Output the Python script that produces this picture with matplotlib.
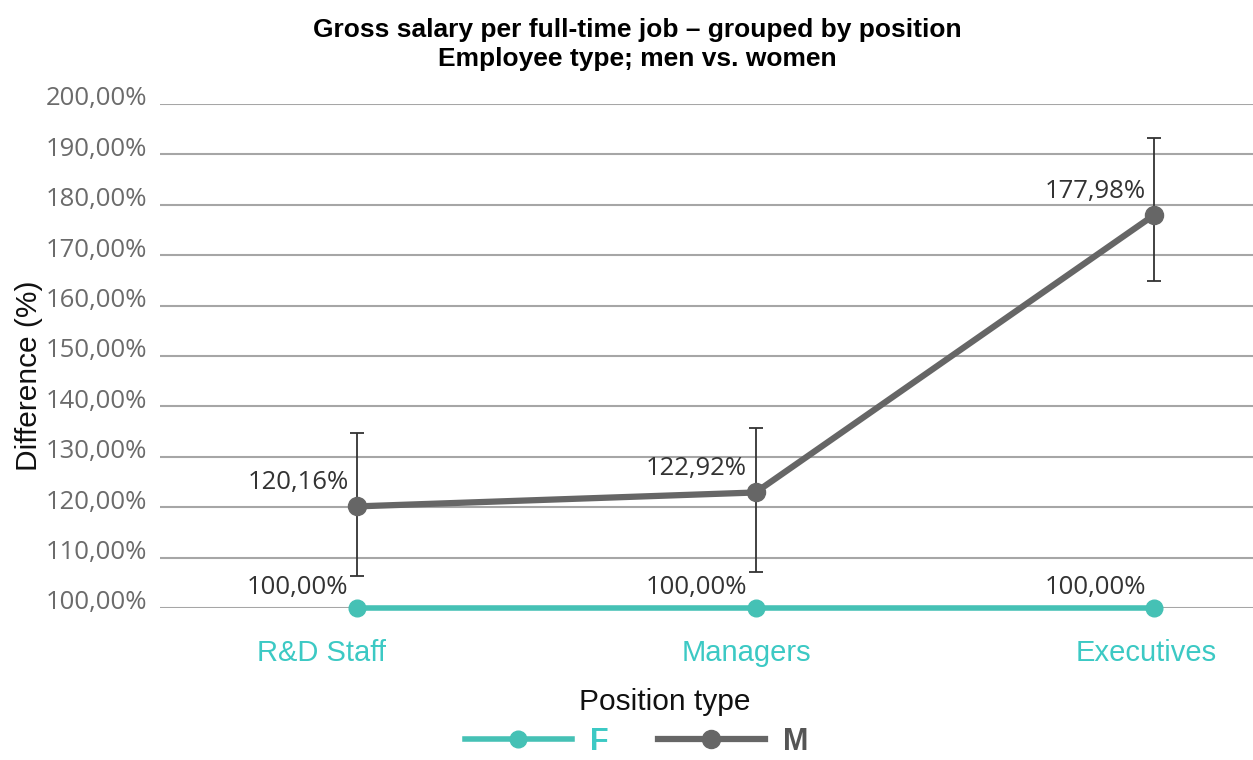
import matplotlib
matplotlib.use("Agg")
import matplotlib.pyplot as plt
from matplotlib.lines import Line2D
import matplotlib.transforms as mtransforms

categories = ["R&D Staff", "Managers", "Executives"]
f_values = [100.00, 100.00, 100.00]
m_values = [120.16, 122.92, 177.98]
m_err_low = [106.3, 107.2, 164.8]
m_err_high = [134.8, 135.7, 193.2]
yticks = [100, 110, 120, 130, 140, 150, 160, 170, 180, 190, 200]

TEAL = "#45C1B5"
TEAL_TXT = "#3CC9C4"
GRAY = "#666666"

W, H = 1253, 760
fig = plt.figure(figsize=(W / 100, H / 100), dpi=100)
ax = fig.add_axes([160 / W, (H - 608) / H, (1253 - 160) / W, (608 - 104) / H])
x = list(range(len(categories)))
ax.set_xlim(-0.494, 2.248)
ax.set_ylim(100, 200)

for s in ax.spines.values():
    s.set_visible(False)
ax.set_yticks(yticks)
ax.set_yticklabels([f"{v:.2f}".replace(".", ",") + "%" for v in yticks])
ax.yaxis.grid(True, color="#a6a6a6", linewidth=1.5)
ax.set_axisbelow(True)
ax.tick_params(axis="y", length=0, pad=9, labelsize=18.5, labelcolor="#6b6b6b")
ax.tick_params(axis="x", length=0, pad=22, labelsize=21, labelcolor=TEAL_TXT)
ax.set_xticks(x)
ax.set_xticklabels(categories)
for lab in ax.get_yticklabels():
    lab.set_fontfamily("Open Sans")
    lab.set_transform(lab.get_transform() + mtransforms.ScaledTranslation(0, 8 / 100, fig.dpi_scale_trans))
x_shift_px = [-35, -9, -8]
for lab, dx in zip(ax.get_xticklabels(), x_shift_px):
    lab.set_fontfamily("Liberation Sans")
    lab.set_transform(lab.get_transform() + mtransforms.ScaledTranslation(dx / 100, 0, fig.dpi_scale_trans))

# error bars
yerr = [[m - lo for m, lo in zip(m_values, m_err_low)], [hi - m for m, hi in zip(m_values, m_err_high)]]
ax.errorbar(x, m_values, yerr=yerr, fmt="none", ecolor="#333333", elinewidth=1.3, capsize=5, capthick=1.3, zorder=4, clip_on=False)

ax.plot(x, f_values, color=TEAL, linewidth=4, marker="o", markersize=12, zorder=3, clip_on=False)
ax.plot(x, m_values, color=GRAY, linewidth=4.5, marker="o", markersize=13, zorder=5, clip_on=False)

for xi, v in zip(x, f_values):
    ax.annotate(f"{v:.2f}".replace(".", ",") + "%", (xi, v), xytext=(-6, 15), textcoords="offset points",
                ha="right", va="center", fontsize=18.5, color="#333333", family="Open Sans")
for xi, v in zip(x, m_values):
    ax.annotate(f"{v:.2f}".replace(".", ",") + "%", (xi, v), xytext=(-6, 17), textcoords="offset points",
                ha="right", va="center", fontsize=18.5, color="#333333", family="Open Sans")

ax.set_ylabel("Difference (%)", fontsize=21.5, family="Liberation Sans", color="#111111")
ax.yaxis.set_label_coords(-0.107, 0.46)
ax.set_xlabel("Position type", fontsize=21.5, family="Liberation Sans", color="#111111")
ax.xaxis.set_label_coords(0.462, -0.159)

fig.text(0.509, 0.941, "Gross salary per full-time job – grouped by position\nEmployee type; men vs. women",
         ha="center", va="center", fontsize=19, fontweight="bold", family="Liberation Sans", linespacing=1.25)

handles = [Line2D([], [], color=TEAL, linewidth=4, marker="o", markersize=12),
           Line2D([], [], color=GRAY, linewidth=4.5, marker="o", markersize=13)]
leg = fig.legend(handles, ["F", "M"], loc="center", bbox_to_anchor=(0.508, 0.024), ncol=2, frameon=False,
                 handlelength=3.5, handletextpad=0.6, columnspacing=1.6, borderpad=0.1,
                 prop={"family": "Liberation Sans", "weight": "bold", "size": 22})
leg.get_texts()[0].set_color(TEAL_TXT)
leg.get_texts()[1].set_color("#555555")

fig.savefig("out.png", dpi=100)
